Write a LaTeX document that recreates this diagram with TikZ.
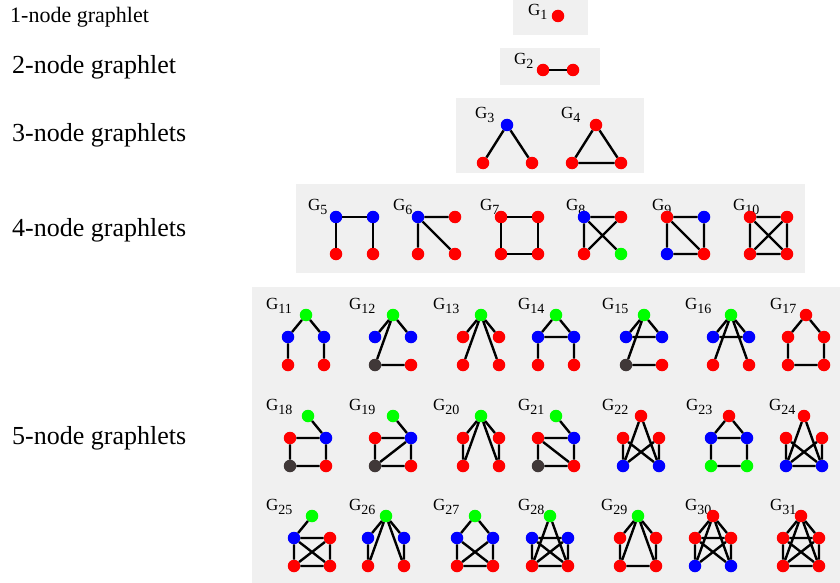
\documentclass[tikz,border=0pt]{standalone}
\usepackage{fontspec}
\setmainfont{Liberation Serif}
\usetikzlibrary{positioning}

\definecolor{vred}{RGB}{255,0,0}
\definecolor{vblue}{RGB}{0,0,255}
\definecolor{vgreen}{RGB}{0,255,0}
\definecolor{vdark}{RGB}{64,56,56}
\definecolor{panel}{RGB}{240,240,240}

\tikzset{
  vtx/.style={circle, inner sep=0, minimum size=12.5pt},
  link/.style={line width=2.4pt},
  glab/.style={anchor=base west, inner sep=0, font=\fontsize{17}{17}\selectfont},
  rowlab/.style={anchor=base west, inner sep=0, font=\fontsize{26}{26}\selectfont},
}

% label G_n
\newcommand{\glabel}[3]{\node[glab] (#1) at #2 {G\raisebox{-4pt}{\fontsize{14}{14}\selectfont #3}};}

% four vertices: top left, top right, bottom left, bottom right
\newcommand{\fourgraph}[6]{%
  \path #2 node[vtx, fill=#3] (#1tl) {}
    ++(37,0) node[vtx, fill=#4] (#1tr) {}
    ++(-37,37) node[vtx, fill=#5] (#1bl) {}
    ++(37,0) node[vtx, fill=#6] (#1br) {};
}

% five vertices: top, middle left, middle right, bottom left, bottom right
\newcommand{\fivegraph}[7]{%
  \path #2 node[vtx, fill=#3] (#1t) {}
    ++(-18,22) node[vtx, fill=#4] (#1ml) {}
    ++(36,0) node[vtx, fill=#5] (#1mr) {}
    ++(-36,28) node[vtx, fill=#6] (#1bl) {}
    ++(36,0) node[vtx, fill=#7] (#1br) {};
}

\begin{document}
\begin{tikzpicture}[x=1pt, y=-1pt]
  \useasboundingbox (0,0) rectangle (840,583);

  % panels
  \fill[panel] (513,0) rectangle (588,35);
  \fill[panel] (500,48) rectangle (600,85);
  \fill[panel] (456,98) rectangle (644,173);
  \fill[panel] (296,184) rectangle (805,273);
  \fill[panel] (252,287) rectangle (840,583);

  % row titles
  \node[rowlab, font=\fontsize{22}{22}\selectfont] (n1) at (10,23) {1-node graphlet};
  \node[rowlab] (n2) at (12,74) {2-node graphlet};
  \node[rowlab] (n3) at (12,141) {3-node graphlets};
  \node[rowlab] (n4) at (12,236) {4-node graphlets};
  \node[rowlab] (n5) at (12,444) {5-node graphlets};

  % 1 and 2 nodes
  \glabel{l1}{(528,16)}{1}
  \node[vtx, fill=vred] (g1) at (558,16) {};
  \glabel{l2}{(514,65)}{2}
  \node[vtx, fill=vred] (g2a) at (543,70) {};
  \node[vtx, fill=vred] (g2b) at (573,70) {};
  \draw[link] (g2a) -- (g2b);

  % 3 nodes
  \glabel{l3}{(475,118)}{3}
  \node[vtx, fill=vblue] (g3t) at (507,125) {};
  \node[vtx, fill=vred] (g3l) at (483,163) {};
  \node[vtx, fill=vred] (g3r) at (532,163) {};
  \draw[link] (g3t) -- (g3l) (g3t) -- (g3r);
  \glabel{l4}{(561,118)}{4}
  \node[vtx, fill=vred] (g4t) at (596,125) {};
  \node[vtx, fill=vred] (g4l) at (572,163) {};
  \node[vtx, fill=vred] (g4r) at (621,163) {};
  \draw[link] (g4t) -- (g4l) -- (g4r) -- (g4t);

  % 4 nodes
  \glabel{l5}{(308,210)}{5}
  \fourgraph{g5}{(336,217)}{vblue}{vblue}{vred}{vred}
  \draw[link] (g5bl) -- (g5tl) -- (g5tr) -- (g5br);
  \glabel{l6}{(393,210)}{6}
  \fourgraph{g6}{(418,217)}{vblue}{vred}{vred}{vred}
  \draw[link] (g6tl) -- (g6tr) (g6tl) -- (g6bl) (g6tl) -- (g6br);
  \glabel{l7}{(480,210)}{7}
  \fourgraph{g7}{(501,217)}{vred}{vred}{vred}{vred}
  \draw[link] (g7tl) -- (g7tr) -- (g7br) -- (g7bl) -- (g7tl);
  \glabel{l8}{(566,210)}{8}
  \fourgraph{g8}{(584,217)}{vblue}{vred}{vred}{vgreen}
  \draw[link] (g8tl) -- (g8tr) -- (g8bl) -- (g8tl) -- (g8br);
  \glabel{l9}{(652,210)}{9}
  \fourgraph{g9}{(667,217)}{vred}{vblue}{vblue}{vred}
  \draw[link] (g9tl) -- (g9tr) -- (g9br) -- (g9bl) -- (g9tl) -- (g9br);
  \glabel{l10}{(733,210)}{10}
  \fourgraph{g10}{(750,217)}{vred}{vred}{vred}{vred}
  \draw[link] (g10tl) -- (g10tr) -- (g10br) -- (g10bl) -- (g10tl) -- (g10br)
    (g10tr) -- (g10bl);

  % 5 nodes, first row
  \glabel{l11}{(266,309)}{11}
  \fivegraph{g11}{(306,315)}{vgreen}{vblue}{vblue}{vred}{vred}
  \draw[link] (g11bl) -- (g11ml) -- (g11t) -- (g11mr) -- (g11br);
  \glabel{l12}{(349,309)}{12}
  \fivegraph{g12}{(393,315)}{vgreen}{vblue}{vblue}{vdark}{vred}
  \draw[link] (g12ml) -- (g12t) -- (g12mr) (g12t) -- (g12bl) -- (g12br);
  \glabel{l13}{(433,309)}{13}
  \fivegraph{g13}{(481,315)}{vgreen}{vred}{vred}{vred}{vred}
  \draw[link] (g13t) -- (g13ml) (g13t) -- (g13mr) (g13t) -- (g13bl) (g13t) -- (g13br);
  \glabel{l14}{(518,309)}{14}
  \fivegraph{g14}{(556,315)}{vgreen}{vblue}{vblue}{vred}{vred}
  \draw[link] (g14bl) -- (g14ml) -- (g14t) -- (g14mr) -- (g14br) (g14ml) -- (g14mr);
  \glabel{l15}{(602,309)}{15}
  \fivegraph{g15}{(644,315)}{vgreen}{vblue}{vblue}{vdark}{vred}
  \draw[link] (g15ml) -- (g15t) -- (g15mr) -- (g15ml) (g15t) -- (g15bl) -- (g15br);
  \glabel{l16}{(685,309)}{16}
  \fivegraph{g16}{(731,315)}{vgreen}{vblue}{vblue}{vred}{vred}
  \draw[link] (g16ml) -- (g16t) -- (g16mr) -- (g16ml) (g16t) -- (g16bl) (g16t) -- (g16br);
  \glabel{l17}{(770,309)}{17}
  \fivegraph{g17}{(806,315)}{vred}{vred}{vred}{vred}{vred}
  \draw[link] (g17t) -- (g17ml) -- (g17bl) -- (g17br) -- (g17mr) -- (g17t);

  % second row
  \glabel{l18}{(266,410)}{18}
  \fivegraph{g18}{(308,416)}{vgreen}{vred}{vblue}{vdark}{vred}
  \draw[link] (g18t) -- (g18mr) -- (g18ml) -- (g18bl) -- (g18br) -- (g18mr);
  \glabel{l19}{(349,410)}{19}
  \fivegraph{g19}{(393,416)}{vgreen}{vred}{vblue}{vdark}{vred}
  \draw[link] (g19t) -- (g19mr) -- (g19ml) -- (g19bl) -- (g19br) -- (g19mr) -- (g19bl);
  \glabel{l20}{(433,410)}{20}
  \fivegraph{g20}{(481,416)}{vgreen}{vred}{vred}{vred}{vred}
  \draw[link] (g20t) -- (g20ml) -- (g20bl) -- (g20t) -- (g20mr) -- (g20br) -- (g20t);
  \glabel{l21}{(518,410)}{21}
  \fivegraph{g21}{(556,416)}{vgreen}{vred}{vblue}{vdark}{vred}
  \draw[link] (g21t) -- (g21mr) -- (g21ml) -- (g21bl) -- (g21br) -- (g21mr)
    (g21ml) -- (g21br);
  \glabel{l22}{(602,410)}{22}
  \fivegraph{g22}{(641,416)}{vred}{vred}{vred}{vblue}{vblue}
  \draw[link] (g22bl) -- (g22t) -- (g22br) (g22ml) -- (g22bl) -- (g22mr) -- (g22br) -- (g22ml);
  \glabel{l23}{(686,410)}{23}
  \fivegraph{g23}{(729,416)}{vred}{vblue}{vblue}{vgreen}{vgreen}
  \draw[link] (g23t) -- (g23ml) -- (g23mr) -- (g23t) (g23ml) -- (g23bl) -- (g23br) -- (g23mr);
  \glabel{l24}{(769,410)}{24}
  \fivegraph{g24}{(804,416)}{vred}{vred}{vred}{vblue}{vblue}
  \draw[link] (g24bl) -- (g24t) -- (g24br) (g24ml) -- (g24bl) -- (g24mr) -- (g24br) -- (g24ml)
    (g24bl) -- (g24br);

  % third row
  \glabel{l25}{(266,510)}{25}
  \fivegraph{g25}{(312,516)}{vgreen}{vblue}{vred}{vred}{vred}
  \draw[link] (g25t) -- (g25ml) -- (g25mr) -- (g25br) -- (g25bl) -- (g25ml) -- (g25br)
    (g25mr) -- (g25bl);
  \glabel{l26}{(349,510)}{26}
  \fivegraph{g26}{(386,516)}{vgreen}{vblue}{vblue}{vred}{vred}
  \draw[link] (g26t) -- (g26ml) -- (g26bl) -- (g26t) -- (g26mr) -- (g26br) -- (g26t);
  \glabel{l27}{(433,510)}{27}
  \fivegraph{g27}{(475,516)}{vgreen}{vblue}{vblue}{vred}{vred}
  \draw[link] (g27t) -- (g27ml) -- (g27bl) -- (g27br) -- (g27mr) -- (g27t)
    (g27ml) -- (g27br) (g27mr) -- (g27bl);
  \glabel{l28}{(518,510)}{28}
  \fivegraph{g28}{(550,516)}{vgreen}{vblue}{vblue}{vred}{vred}
  \draw[link] (g28bl) -- (g28t) -- (g28br) (g28ml) -- (g28mr) -- (g28br) -- (g28bl) -- (g28ml)
    -- (g28br) (g28mr) -- (g28bl);
  \glabel{l29}{(601,510)}{29}
  \fivegraph{g29}{(638,516)}{vgreen}{vred}{vred}{vred}{vred}
  \draw[link] (g29t) -- (g29ml) -- (g29bl) -- (g29br) -- (g29mr) -- (g29t)
    (g29t) -- (g29bl) (g29t) -- (g29br);
  \glabel{l30}{(685,510)}{30}
  \fivegraph{g30}{(713,516)}{vred}{vred}{vred}{vblue}{vblue}
  \draw[link] (g30t) -- (g30ml) -- (g30mr) -- (g30t) (g30t) -- (g30bl) (g30t) -- (g30br)
    (g30ml) -- (g30bl) -- (g30mr) -- (g30br) -- (g30ml);
  \glabel{l31}{(770,510)}{31}
  \fivegraph{g31}{(801,516)}{vred}{vred}{vred}{vred}{vred}
  \draw[link] (g31t) -- (g31ml) -- (g31mr) -- (g31t) (g31t) -- (g31bl) (g31t) -- (g31br)
    (g31ml) -- (g31bl) -- (g31mr) -- (g31br) -- (g31ml) (g31bl) -- (g31br);
\end{tikzpicture}
\end{document}
